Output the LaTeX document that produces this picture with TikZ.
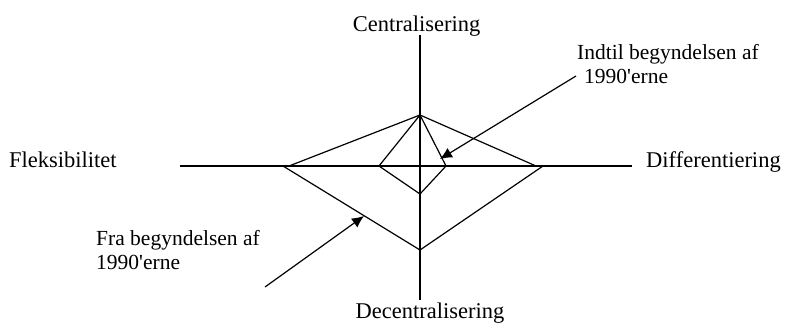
\documentclass[tikz,border=0pt]{standalone}
\usepackage{fontspec}
\setmainfont{Liberation Serif}[Ligatures=TeXOff]
\usetikzlibrary{arrows.meta}
\begin{document}
\begin{tikzpicture}[x=1pt,y=-1pt,
  axis/.style={line width=1.5pt},
  poly/.style={line width=1.2pt, line join=miter},
  pointer/.style={line width=1.2pt, -{Latex[length=12pt,width=11pt]}},
  axlabel/.style={inner sep=0pt, font=\fontsize{22.5}{27}\selectfont},
  notelabel/.style={inner sep=0pt, align=left, font=\fontsize{21.5}{24}\selectfont}]
\useasboundingbox (0,0) rectangle (788,324);
% axes
\coordinate (vtop) at (420,35);
\coordinate (vbot) at (420,300);
\coordinate (hl) at (180,166);
\coordinate (hr) at (632,166);
\draw[axis] (vtop) -- (vbot);
\draw[axis] (hl) -- (hr);
% polygon points
\coordinate (T) at (420,115);
\coordinate (OLu) at (289,166);
\coordinate (ORu) at (536,166);
\coordinate (OLd) at (283,166);
\coordinate (ORd) at (543,166);
\coordinate (OB) at (420,250);
\coordinate (SL) at (379,166);
\coordinate (SR) at (446,166);
\coordinate (SB) at (420,194);
\draw[poly] (OLu) -- (T) -- (ORu);
\draw[poly] (OLd) -- (OB) -- (ORd);
\draw[poly] (SL) -- (T) -- (SR);
\draw[poly] (SL) -- (SB) -- (SR);
% labels
\node[axlabel, anchor=base] (cen) at (416.5,31) {Centralisering};
\node[axlabel, anchor=base] (dec) at (430,318) {Decentralisering};
\node[axlabel, anchor=base west] (fle) at (9,167) {Fleksibilitet};
\node[axlabel, anchor=base west] (dif) at (646,167) {Differentiering};
\node[notelabel, anchor=base west] (ind) at (577,83) {Indtil begyndelsen af\\\hspace*{7pt}1990'erne};
\node[notelabel, anchor=base west] (fra) at (96,269) {Fra begyndelsen af\\1990'erne};
% pointers
\coordinate (a1s) at (576,76);
\coordinate (a1e) at (440,159);
\coordinate (a2s) at (265,287);
\coordinate (a2e) at (364,216);
\draw[pointer] (a1s) -- (a1e);
\draw[pointer] (a2s) -- (a2e);
\end{tikzpicture}
\end{document}
